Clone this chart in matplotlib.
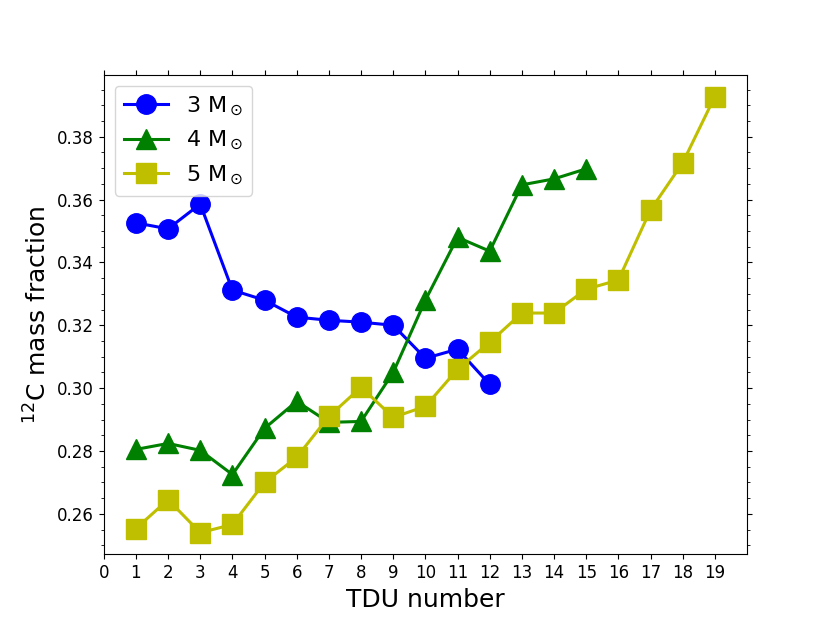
import matplotlib
matplotlib.use("Agg")
import matplotlib.pyplot as plt
from matplotlib.ticker import MultipleLocator

tdu3 = list(range(1, 13))
c12_3 = [0.3526, 0.3507, 0.3586, 0.3312, 0.3280, 0.3226, 0.3216, 0.3210, 0.3200, 0.3095, 0.3124, 0.3012]

tdu4 = list(range(1, 16))
c12_4 = [0.2805, 0.2824, 0.2802, 0.2725, 0.2872, 0.2958, 0.2891, 0.2894, 0.3050, 0.3280, 0.3480, 0.3436, 0.3647, 0.3666, 0.3698]

tdu5 = list(range(1, 20))
c12_5 = [0.2553, 0.2645, 0.2540, 0.2566, 0.2700, 0.2780, 0.2910, 0.3003, 0.2907, 0.2942, 0.3060, 0.3146, 0.3239, 0.3239, 0.3315, 0.3344, 0.3567, 0.3717, 0.3928]

labels = [r'3 M$_\odot$', r'4 M$_\odot$', r'5 M$_\odot$']
xticks = list(range(0, 20))

fig, ax = plt.subplots(figsize=(8.3, 6.23), dpi=100)
ax.plot(tdu3, c12_3, 'o-', color='b', lw=2.2, ms=14, label=labels[0])
ax.plot(tdu4, c12_4, '^-', color='g', lw=2.2, ms=14, label=labels[1])
ax.plot(tdu5, c12_5, 's-', color='y', lw=2.2, ms=14, label=labels[2])

ax.set_xlim(0, 20)
ax.set_xticks(xticks)
ax.yaxis.set_minor_locator(MultipleLocator(0.005))
ax.tick_params(axis='both', which='both', direction='out', top=True, right=True, labelsize=12)
ax.set_xlabel('TDU number', fontsize=18)
ax.set_ylabel(r'$^{12}$C mass fraction', fontsize=18)
ax.legend(loc='upper left', fontsize=16)

fig.savefig('out.png', dpi=100)
